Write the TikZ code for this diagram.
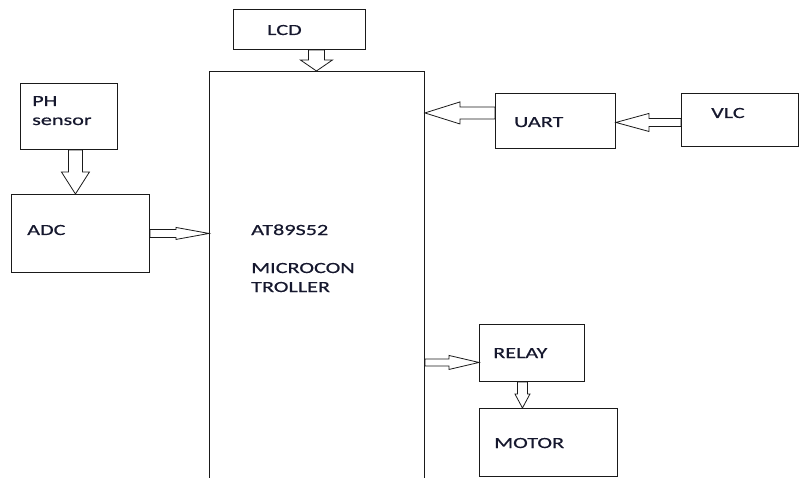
\documentclass[tikz,border=0pt]{standalone}
\usepackage{fontspec}
\setmainfont[FakeStretch=1.43, FakeBold=0.5]{Carlito}
\usetikzlibrary{calc, positioning}
\definecolor{color_line}{HTML}{1A1A1A}
\definecolor{color_text}{HTML}{16182E}
\tikzset{
  block_box/.style={draw=color_line, line width=0.9pt, inner sep=0pt, anchor=north west},
  block_label/.style={font=\rmfamily\fontsize{15.5}{19}\selectfont, text=color_text, inner sep=0pt, anchor=base west, align=left},
  hollow_arrow/.style n args={3}{draw=color_line, line width=0.8pt, line join=miter,
    to path={let \p1=(\tikztostart), \p2=(\tikztotarget),
      \n1={atan2(\y2-\y1,\x2-\x1)}, \n2={veclen(\x2-\x1,\y2-\y1)-#3} in
      ($(\p1)+(\n1+90:#1)$) -- ($(\p1)+(\n1:\n2)+(\n1+90:#1)$)
      -- ($(\p1)+(\n1:\n2)+(\n1+90:#2)$) -- (\p2)
      -- ($(\p1)+(\n1:\n2)+(\n1-90:#2)$) -- ($(\p1)+(\n1:\n2)+(\n1-90:#1)$)
      -- ($(\p1)+(\n1-90:#1)$) -- cycle}},
}
\begin{document}
\begin{tikzpicture}[x=1pt, y=1pt]
    \useasboundingbox[fill=white] (0,0) rectangle (800,477);
    \clip (0,0) rectangle (800,477);
    % Blocks
    \node[block_box, minimum width=215, minimum height=420] (mcu) at (209,406) {};
    \node[block_box, minimum width=132, minimum height=40] (lcd) at (233,468) {};
    \node[block_box, minimum width=97, minimum height=66] (ph) at (20,394) {};
    \node[block_box, minimum width=138, minimum height=78] (adc) at (11,283) {};
    \node[block_box, minimum width=120, minimum height=55] (uart) at (495,384) {};
    \node[block_box, minimum width=117, minimum height=53] (vlc) at (681,384) {};
    \node[block_box, minimum width=105, minimum height=57] (relay) at (479,153) {};
    \node[block_box, minimum width=138, minimum height=68] (motor) at (479,69) {};
    % Labels
    \node[block_label] (lcd_text) at (267,442) {LCD};
    \node[block_label] (ph_text) at (32,352) {PH\\sensor};
    \node[block_label] (adc_text) at (27,242) {ADC};
    \node[block_label] (mcu_text) at (251,185) {AT89S52\\[19pt]MICROCON\\TROLLER};
    \node[block_label] (uart_text) at (514,350) {UART};
    \node[block_label] (vlc_text) at (711,359) {VLC};
    \node[block_label] (relay_text) at (493,119) {RELAY};
    \node[block_label] (motor_text) at (494,29) {MOTOR};
    % Arrow ends
    \coordinate (lcd_out) at ($(lcd.south)+(17,0)$);
    \coordinate (ph_out) at ($(ph.south)+(6.5,0)$);
    \coordinate (uart_out) at ($(uart.west)+(0,8)$);
    \coordinate (vlc_out) at ($(vlc.west)+(0,-2.5)$);
    \coordinate (relay_in) at ($(relay.west)+(0,-9.5)$);
    \coordinate (relay_out) at ($(relay.south)+(-9.5,0)$);
    % Data flow
    \draw[hollow_arrow={8}{16}{11}] (lcd_out) to (lcd_out |- mcu.north);
    \draw[hollow_arrow={7}{14}{22}] (ph_out) to (ph_out |- adc.north);
    \draw[hollow_arrow={4}{6}{33}] (adc.east) to (adc.east -| mcu.west);
    \draw[hollow_arrow={6}{11}{35}] (uart_out) to (uart_out -| mcu.east);
    \draw[hollow_arrow={4}{9}{33}] (vlc_out) to (vlc_out -| uart.east);
    \draw[hollow_arrow={3.5}{7}{30}] (relay_in -| mcu.east) to (relay_in);
    \draw[hollow_arrow={5}{7.5}{14}] (relay_out) to (relay_out |- motor.north);
  \end{tikzpicture}
\end{document}
